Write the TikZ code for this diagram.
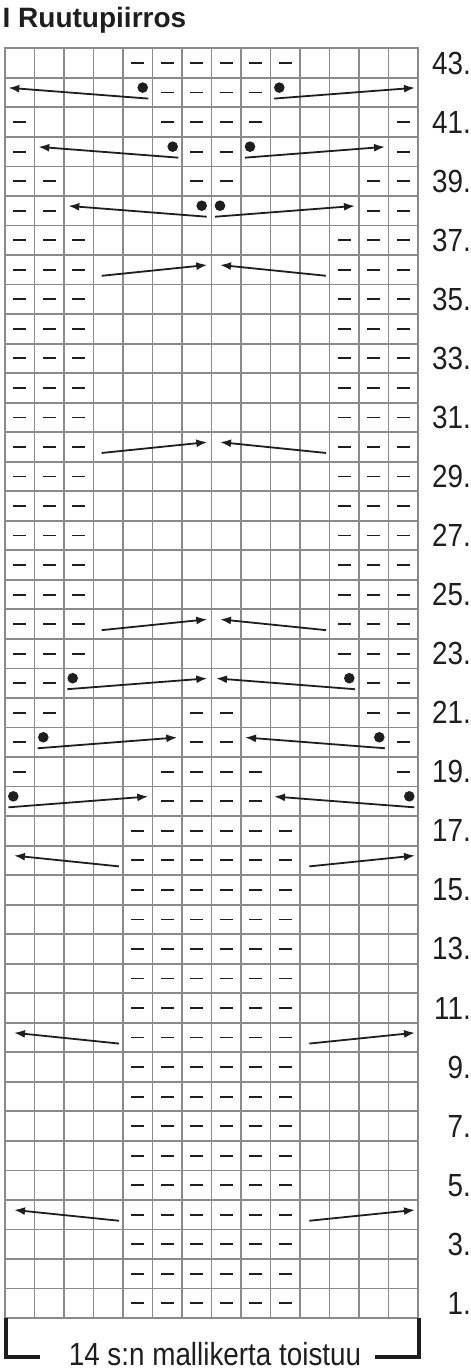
\documentclass[tikz,border=0pt]{standalone}
\usepackage{fontspec}
\setmainfont{Liberation Sans}
\newfontfamily\narrowfont[FakeStretch=0.87]{Liberation Sans}
\usetikzlibrary{arrows.meta}
\definecolor{gridgray}{HTML}{8A8A8A}
\definecolor{ink}{HTML}{1E1E1E}
\newcommand\RY[1]{(48.3+(43.5-#1)*29.53)}
\newcommand\CX[1]{(5+(#1-0.5)*29.5)}
\begin{document}
\begin{tikzpicture}[x=1pt,y=-1pt,
  gridline/.style={gridgray,line width=1.8pt},
  purl/.style={ink,line width=1.8pt},
  movearrow/.style={ink,line width=1.8pt,-{Latex[length=11pt,width=8pt]}},
  stitchdot/.style={fill=ink},
  rowlabel/.style={anchor=east,inner sep=0pt,font=\narrowfont\fontsize{32}{32}\selectfont,text=ink},
  caption/.style={anchor=base,inner sep=0pt,font=\narrowfont\fontsize{32}{32}\selectfont,text=ink},
  titletext/.style={anchor=base west,inner sep=0pt,font=\bfseries\fontsize{28}{28}\selectfont,text=ink},
  bracket/.style={ink,line width=4pt}]
\useasboundingbox (0,0) rectangle (471,1371);
% title
\node[titletext] (title) at (2.5,27) {I Ruutupiirros};
% grid
\foreach \i in {1,...,13} \draw[gridline] ({5+\i*29.5},48.3) -- ({5+\i*29.5},1318.1);
\foreach \j in {1,...,42} \draw[gridline] (5,{48.3+\j*29.53}) -- (418,{48.3+\j*29.53});
\draw[gridline] (5,48.3) rectangle (418,1318.1);
% purl dashes
\foreach \r/\cols in {43/{5,6,7,8,9,10},42/{6,7,8,9},41/{1,6,7,8,9,14},40/{1,7,8,14},
  39/{1,2,7,8,13,14},38/{1,2,13,14},22/{1,2,13,14},21/{1,2,7,8,13,14},20/{1,7,8,14},
  19/{1,6,7,8,9,14},18/{6,7,8,9}}{
  \foreach \c in \cols {\draw[purl] ({\CX{\c}-6.5},{\RY{\r}}) -- ++(13,0);}
}
\foreach \r in {23,...,37}{
  \foreach \c in {1,2,3,12,13,14} {\draw[purl] ({\CX{\c}-6.5},{\RY{\r}}) -- ++(13,0);}
}
\foreach \r in {1,...,17}{
  \foreach \c in {5,...,10} {\draw[purl] ({\CX{\c}-6.5},{\RY{\r}}) -- ++(13,0);}
}
% arrows
\foreach \r/\a/\b in {42/148.3/8.3, 42/274/415, 40/178.3/38.3, 40/245/385,
  38/206.7/68.3, 38/215/355,
  36/101.7/207.3, 36/326/220, 30/101.7/207.3, 30/326/220, 24/101.7/207.3, 24/326/220,
  22/67.3/207.3, 22/355/216, 20/37.7/177.3, 20/385/245, 18/8.3/148.3, 18/414.3/274,
  16/119/14, 16/309.3/415, 10/119/14, 10/309.3/415, 4/119/14, 4/309.3/415}{
  \coordinate (s) at (\a,{\RY{\r}+6});
  \coordinate (t) at (\b,{\RY{\r}-4.8});
  \draw[movearrow] (s) -- (t);
}
% dots
\foreach \r/\x in {42/142.7, 42/279.3, 40/172.7, 40/250, 38/201.7, 38/220,
  22/72.7, 22/349.3, 20/43.3, 20/379.3, 18/13.3, 18/409.3}{
  \fill[stitchdot] (\x,{\RY{\r}-5}) circle (5.3);
}
% row labels
\foreach \r in {1,3,...,43}{
  \node[rowlabel] (lab\r) at (471,{\RY{\r}}) {\r.};
}
% bracket
\draw[bracket] (5.5,1318) -- (5.5,1357) -- (40,1357);
\draw[bracket] (375,1357) -- (418.5,1357) -- (418.5,1318);
\node[caption] (cap) at (215,1365) {14 s:n mallikerta toistuu};
\end{tikzpicture}
\end{document}
